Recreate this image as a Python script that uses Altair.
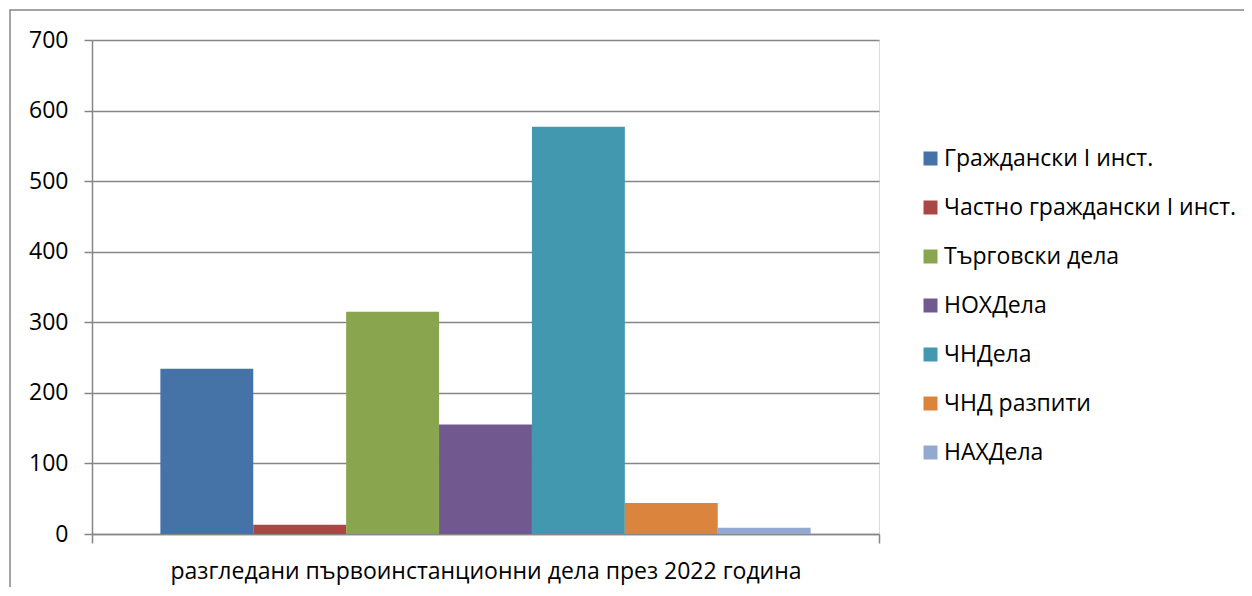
import altair as alt
import pandas as pd

category = "разгледани първоинстанционни дела през 2022 година"
series = [
    "Граждански I инст.",
    "Частно граждански I инст.",
    "Търговски дела",
    "НОХДела",
    "ЧНДела",
    "ЧНД разпити",
    "НАХДела",
]
values = [234, 13, 315, 155, 577, 44, 9]
colors = ["#4572A7", "#AA4643", "#89A54E", "#71588F", "#4198AF", "#DB843D", "#93A9CF"]
y_ticks = [0, 100, 200, 300, 400, 500, 600, 700]

df = pd.DataFrame({"cat": [category] * len(series), "series": series, "value": values})

FONT = "Open Sans"
GRAY = "#868686"
FS = 23

bars = alt.Chart(df).mark_bar(opacity=1).encode(
    x=alt.X(
        "cat:N",
        title=None,
        scale=alt.Scale(paddingInner=0, paddingOuter=0),
        axis=alt.Axis(
            labelAngle=0,
            labelFontSize=FS,
            labelFont=FONT,
            labelColor="#000000",
            labelLimit=2000,
            labelPadding=17,
            tickBand="extent",
            tickSize=9,
            tickColor=GRAY,
            domainColor=GRAY,
            domainWidth=1.5,
            tickWidth=1.5,
        ),
    ),
    xOffset=alt.XOffset(
        "series:N",
        sort=series,
        scale=alt.Scale(paddingOuter=0.736, paddingInner=0),
    ),
    y=alt.Y(
        "value:Q",
        title=None,
        scale=alt.Scale(domain=[0, 700], nice=False),
        axis=alt.Axis(
            values=y_ticks,
            labelFontSize=FS,
            labelFont=FONT,
            labelColor="#000000",
            labelPadding=16,
            tickSize=8,
            tickColor=GRAY,
            tickWidth=1.5,
            domainColor=GRAY,
            domainWidth=1.5,
            gridColor=GRAY,
            gridWidth=1.5,
        ),
    ),
    color=alt.Color(
        "series:N",
        sort=series,
        scale=alt.Scale(domain=series, range=colors),
        legend=alt.Legend(
            title=None,
            orient="none",
            legendX=827,
            legendY=107,
            symbolType="square",
            symbolSize=196,
            symbolStrokeWidth=0,
            labelFontSize=FS,
            labelFont=FONT,
            labelColor="#000000",
            labelLimit=400,
            rowPadding=25,
            labelOffset=2,
        ),
    ),
)

border = alt.Chart(pd.DataFrame({"a": [0]})).mark_rect(
    fillOpacity=0, stroke=GRAY, strokeWidth=1.5
).encode(
    x=alt.value(-82), x2=alt.value(1400), y=alt.value(-30), y2=alt.value(800)
)

chart = (
    alt.layer(border, bars)
    .properties(
        width=787,
        height=494,
        padding={"left": 84, "top": 32, "right": 365, "bottom": 53},
        autosize=alt.AutoSizeParams(type="none"),
    )
    .configure_view(stroke=None)
    .configure(font=FONT)
)

chart.save("out.html", embed_options={"renderer": "svg", "actions": False})
